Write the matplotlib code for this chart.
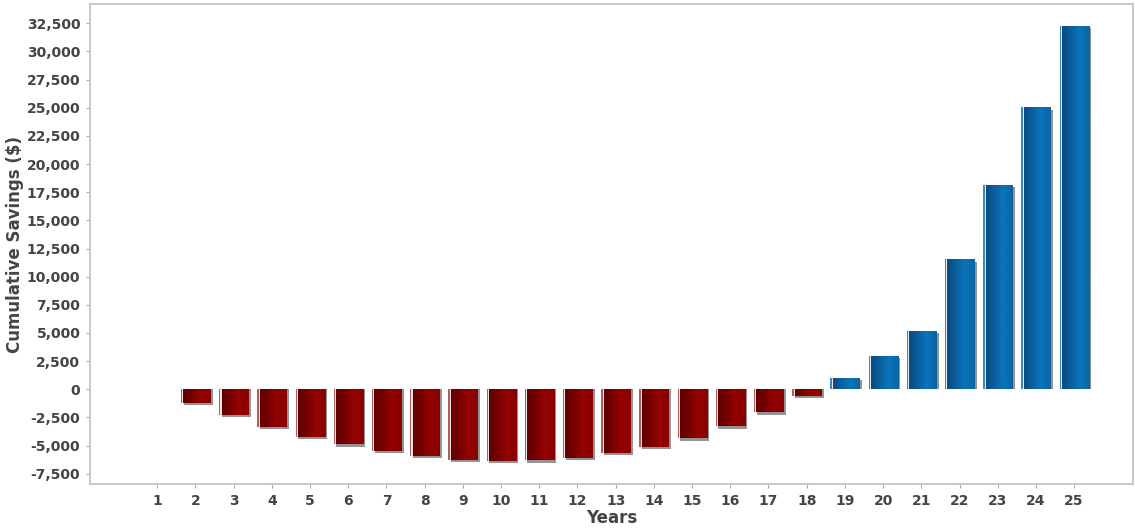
import numpy as np
import matplotlib
matplotlib.use("Agg")
import matplotlib.pyplot as plt
from matplotlib.colors import LinearSegmentedColormap
from matplotlib.ticker import FuncFormatter

# cumulative savings per year
years = list(range(1, 26))
savings = [0, -1190, -2250, -3320, -4210, -4890, -5450, -5920, -6250, -6350,
           -6300, -6070, -5630, -5090, -4350, -3260, -2050, -570,
           1030, 2960, 5180, 11540, 18140, 25040, 32260]
yticks = list(range(-7500, 32501, 2500))

txt = '#444444'
red_cm = LinearSegmentedColormap.from_list('r', ['#5a0000', '#740000', '#940303', '#8a0000'])
blue_cm = LinearSegmentedColormap.from_list('b', ['#0a4676', '#0a5c98', '#0a74bc', '#0a64a4'])
grad = np.linspace(0, 1, 64).reshape(1, -1)

fig = plt.figure(figsize=(11.35, 5.29), dpi=100)
ax = fig.add_axes([0.0793, 0.085, 0.9189, 0.907])

w = 0.76
dx = 0.07   # shadow shift, x units
dy = 220    # shadow shift, y units

# drop shadows (right and below, never below the zero line for positive bars)
sh_x = [y + dx for y in years]
sh_h = [v - dy if v < 0 else max(v - dy, 0) for v in savings]
sh_h = [h if v != 0 else 0 for h, v in zip(sh_h, savings)]
ax.bar(sh_x, sh_h, width=w, color='#7a7a7a', alpha=0.8, zorder=1, linewidth=0)

bars = ax.bar(years, savings, width=w, color='none', edgecolor='none', zorder=2)
for b, v in zip(bars, savings):
    if v == 0:
        continue
    cm = blue_cm if v > 0 else red_cm
    b.set_facecolor(cm(0.5))
    x0 = b.get_x()
    im = ax.imshow(grad, cmap=cm, aspect='auto', zorder=3,
                   extent=[x0, x0 + w, min(0, v), max(0, v)])
    im.set_clip_path(b)

# light edge line + white highlight at the left side of each bar
edge_col = ['#3c86c0' if v > 0 else '#b45a5a' for v in savings]
ax.bar([y - w / 2 for y in years], savings, width=0.035, align='edge',
       color=edge_col, zorder=4, linewidth=0)
ax.bar([y - w / 2 + 0.035 for y in years], savings, width=0.03, align='edge',
       color='white', alpha=0.9, zorder=4, linewidth=0)

ax.set_xlim(-0.76, 26.54)
ax.set_ylim(-8410, 34190)
ax.set_xticks(years)
ax.set_yticks(yticks)
ax.yaxis.set_major_formatter(FuncFormatter(lambda v, p: f'{int(v):,}'))

for s in ax.spines.values():
    s.set_color('#c4c4c4')
    s.set_linewidth(1.3)
ax.tick_params(axis='both', length=3, width=0.8, color='#aaaaaa', labelcolor=txt,
               labelsize=10, pad=4)
for lab in ax.get_xticklabels() + ax.get_yticklabels():
    lab.set_fontweight('bold')

ax.set_ylabel('Cumulative Savings ($)', fontsize=12, fontweight='bold', color=txt, labelpad=2)
ax.set_xlabel('Years', fontsize=12, fontweight='bold', color=txt, labelpad=1)

fig.savefig('out.png', dpi=100)
